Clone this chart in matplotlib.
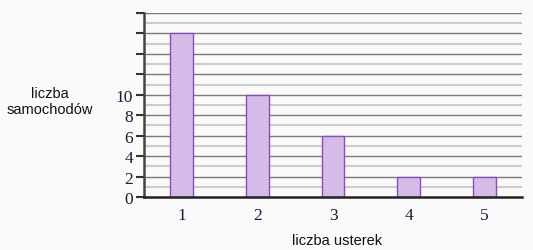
import matplotlib
matplotlib.use("Agg")
import matplotlib.pyplot as plt
import numpy as np

categories = [1, 2, 3, 4, 5]
values = [16, 10, 6, 2, 2]
ytick_labels = ["0", "2", "4", "6", "8", "10", "", "", "", ""]

bg = "#f9faf9"
fig = plt.figure(figsize=(5.33, 2.51), dpi=100, facecolor=bg)
ax = fig.add_axes([144/533, 1-198/251, (522-144)/533, (198-14)/251])
ax.set_facecolor(bg)

ax.set_xlim(0.5, 5.5)
ax.set_ylim(0, 18)

# gridlines
for y in range(1, 19):
    if y % 2 == 0:
        ax.axhline(y, color="#7a7a7a", lw=1.0, zorder=1)
    else:
        ax.axhline(y, color="#cccccc", lw=1.5, zorder=1)

ax.bar(categories, values, width=0.3, color="#d4bbe8", edgecolor="#8a4cc0", lw=1.0, zorder=3)

serif = "Liberation Serif"
ax.set_yticks(range(0, 19, 2))
ax.set_yticklabels(ytick_labels, fontfamily=serif, fontsize=12.5, color="#1a1a3a")
ax.set_xticks(categories)
ax.set_xticklabels([str(c) for c in categories], fontfamily=serif, fontsize=12.5, color="#1a1a3a")
ax.tick_params(axis="y", direction="out", length=6, width=1.5, color="#333333", pad=2)
ax.tick_params(axis="x", length=0, pad=7)

for s in ["top", "right"]:
    ax.spines[s].set_visible(False)
ax.spines["left"].set_color("#444444")
ax.spines["left"].set_linewidth(1.8)
ax.spines["bottom"].set_color("#222222")
ax.spines["bottom"].set_linewidth(1.8)
ax.spines["left"].set_zorder(4)
ax.spines["bottom"].set_zorder(4)

fig.text(337/533, 1-241/251, "liczba usterek", ha="center", va="center",
         fontfamily="Liberation Sans", fontsize=10.5, color="#111111")
fig.text(50/533, 1-102/251, "liczba\nsamochodów", ha="center", va="center",
         fontfamily="Liberation Sans", fontsize=10.5, color="#111111", linespacing=1.2)

fig.savefig("out.png", dpi=100, facecolor=bg)
